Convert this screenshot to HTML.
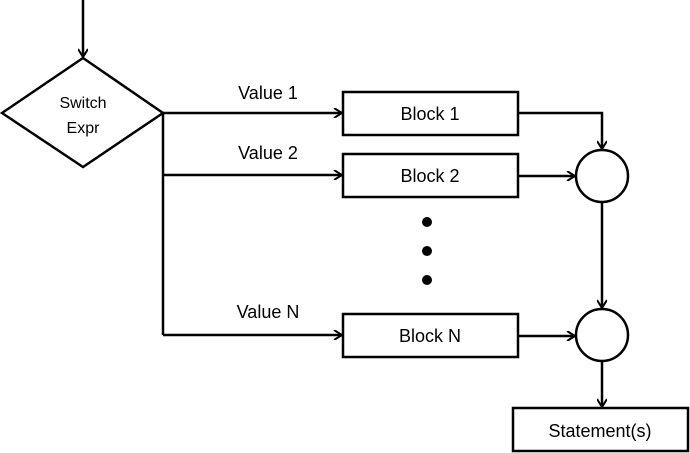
<!DOCTYPE html>
<html><head><style>body{margin:0;background:#fff}svg{display:block}text{font-family:"Liberation Sans",sans-serif;fill:#000}</style></head><body>
<svg width="690" height="453" viewBox="0 0 690 453">
<defs><marker id="a" markerWidth="10" markerHeight="10" refX="9" refY="5" orient="auto" markerUnits="userSpaceOnUse"><path d="M1,0 L9,5 L1,10" fill="none" stroke="#000" stroke-width="2"/></marker></defs>
<g stroke="#000" stroke-width="2.5" fill="none">
<line x1="83" y1="0" x2="83" y2="57" marker-end="url(#a)"/>
<polygon points="2,113 83,58 163,113 83,167" fill="#fff"/>
<line x1="163" y1="113" x2="342" y2="113" marker-end="url(#a)"/>
<line x1="163" y1="113" x2="163" y2="335"/>
<line x1="163" y1="175" x2="342" y2="175" marker-end="url(#a)"/>
<line x1="163" y1="335" x2="342" y2="335" marker-end="url(#a)"/>
<rect x="343" y="92" width="175" height="43"/>
<rect x="343" y="154" width="175" height="43"/>
<rect x="343" y="314" width="175" height="43"/>
<circle cx="602" cy="176" r="26"/>
<circle cx="602" cy="335" r="26"/>
<polyline points="518,113 602,113 602,149" marker-end="url(#a)"/>
<line x1="518" y1="176" x2="575" y2="176" marker-end="url(#a)"/>
<line x1="602" y1="202" x2="602" y2="308" marker-end="url(#a)"/>
<line x1="518" y1="336" x2="575" y2="336" marker-end="url(#a)"/>
<line x1="602" y1="361" x2="602" y2="407" marker-end="url(#a)"/>
<rect x="513" y="408" width="175" height="43"/>
</g>
<g fill="#000"><circle cx="427" cy="222" r="5"/><circle cx="427" cy="251" r="5"/><circle cx="427" cy="280" r="5"/></g>
<g font-size="18" text-anchor="middle">
<text x="268" y="99">Value 1</text>
<text x="268" y="159">Value 2</text>
<text x="268" y="318">Value N</text>
<text x="430" y="120">Block 1</text>
<text x="430" y="182">Block 2</text>
<text x="430" y="342">Block N</text>
<text x="600" y="437">Statement(s)</text>
</g>
<g font-size="16" text-anchor="middle">
<text x="83" y="108">Switch</text>
<text x="83" y="133">Expr</text>
</g>
</svg>
</body></html>
